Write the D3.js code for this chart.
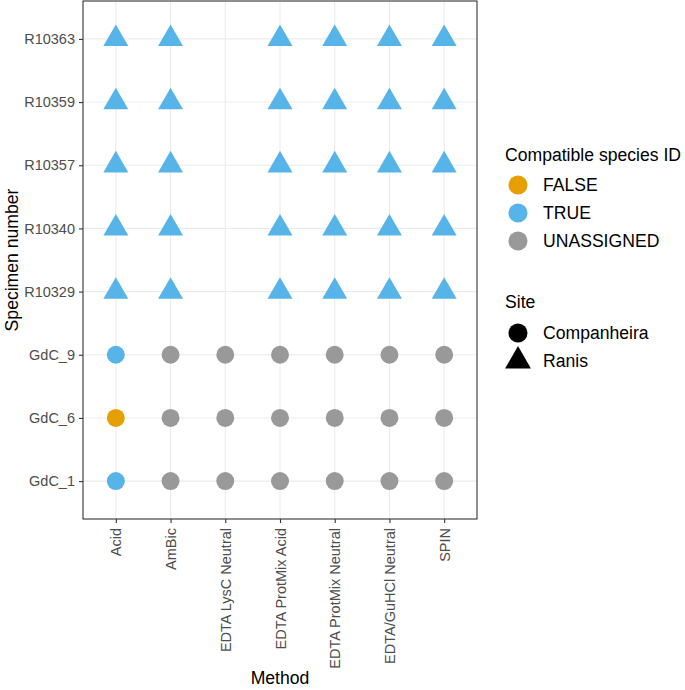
<!DOCTYPE html>
<html>
<head>
<meta charset="utf-8">
<script src="https://cdn.jsdelivr.net/npm/d3@7"></script>
<style>
  body { margin: 0; background: #fff; }
  text { font-family: "Liberation Sans", Arial, sans-serif; }
</style>
</head>
<body>
<div id="chart"></div>
<script>
// data
var methods = ["Acid", "AmBic", "EDTA LysC Neutral", "EDTA ProtMix Acid",
               "EDTA ProtMix Neutral", "EDTA/GuHCl Neutral", "SPIN"];
var specimens = ["GdC_1", "GdC_6", "GdC_9", "R10329", "R10340", "R10357", "R10359", "R10363"];
var specimenSite = ["Companheira", "Companheira", "Companheira", "Ranis", "Ranis", "Ranis", "Ranis", "Ranis"];
// one row per specimen, one entry per method ("" = no point)
var compatible = [
  ["TRUE",  "UNASSIGNED", "UNASSIGNED", "UNASSIGNED", "UNASSIGNED", "UNASSIGNED", "UNASSIGNED"],
  ["FALSE", "UNASSIGNED", "UNASSIGNED", "UNASSIGNED", "UNASSIGNED", "UNASSIGNED", "UNASSIGNED"],
  ["TRUE",  "UNASSIGNED", "UNASSIGNED", "UNASSIGNED", "UNASSIGNED", "UNASSIGNED", "UNASSIGNED"],
  ["TRUE", "TRUE", "", "TRUE", "TRUE", "TRUE", "TRUE"],
  ["TRUE", "TRUE", "", "TRUE", "TRUE", "TRUE", "TRUE"],
  ["TRUE", "TRUE", "", "TRUE", "TRUE", "TRUE", "TRUE"],
  ["TRUE", "TRUE", "", "TRUE", "TRUE", "TRUE", "TRUE"],
  ["TRUE", "TRUE", "", "TRUE", "TRUE", "TRUE", "TRUE"]
];
var idLevels = ["FALSE", "TRUE", "UNASSIGNED"];
var idColors = ["#E69F00", "#56B4E9", "#999999"];
var siteLevels = ["Companheira", "Ranis"];

var width = 685, height = 690;
var margin = {top: 1, right: 208, bottom: 171, left: 83};
var pw = width - margin.left - margin.right,
    ph = height - margin.top - margin.bottom;

var svg = d3.select("#chart").append("svg")
    .attr("width", width)
    .attr("height", height);

var g = svg.append("g")
    .attr("transform", "translate(" + margin.left + "," + margin.top + ")");

var x = d3.scalePoint().domain(methods).range([0, pw]).padding(0.6);
var y = d3.scalePoint().domain(specimens).range([ph, 0]).padding(0.6);
var color = d3.scaleOrdinal().domain(idLevels).range(idColors);
var shape = d3.scaleOrdinal().domain(siteLevels).range([d3.symbolCircle, d3.symbolTriangle]);
var shapeSize = d3.scaleOrdinal().domain(siteLevels).range([254, 270]);

// grid
g.selectAll(".gx").data(methods).enter().append("line")
    .attr("x1", function(d){return x(d)}).attr("x2", function(d){return x(d)})
    .attr("y1", 0).attr("y2", ph)
    .attr("stroke", "#ebebeb").attr("stroke-width", 1.1);
g.selectAll(".gy").data(specimens).enter().append("line")
    .attr("y1", function(d){return y(d)}).attr("y2", function(d){return y(d)})
    .attr("x1", 0).attr("x2", pw)
    .attr("stroke", "#ebebeb").attr("stroke-width", 1.1);

// points
var pts = [];
specimens.forEach(function(s, i){
  methods.forEach(function(m, j){
    if (compatible[i][j] !== "") pts.push({spec: s, method: m, id: compatible[i][j], site: specimenSite[i]});
  });
});

g.selectAll(".pt").data(pts).enter().append("path")
    .attr("transform", function(d){return "translate(" + x(d.method) + "," + y(d.spec) + ")"})
    .attr("d", function(d){return d3.symbol().type(shape(d.site)).size(shapeSize(d.site))()})
    .attr("fill", function(d){return color(d.id)});

// border
g.append("rect").attr("width", pw).attr("height", ph)
    .attr("fill", "none").attr("stroke", "#333333").attr("stroke-width", 1.1);

// axes
var xAxis = g.append("g")
    .attr("transform", "translate(0," + ph + ")")
    .call(d3.axisBottom(x).tickSize(4).tickPadding(5));
var yAxis = g.append("g")
    .call(d3.axisLeft(y).tickSize(4).tickPadding(4));
[xAxis, yAxis].forEach(function(a){
  a.attr("font-size", null).attr("font-family", null);
  a.select(".domain").remove();
  a.selectAll(".tick line").attr("stroke", "#333333").attr("stroke-width", 1.1);
  a.selectAll(".tick text").attr("fill", "#4d4d4d").style("font-size", "14.5px");
});
xAxis.selectAll(".tick text")
    .attr("transform", "rotate(-90)")
    .attr("x", -9).attr("y", 0).attr("dy", "0.35em")
    .attr("text-anchor", "end");

// axis titles
svg.append("text")
    .attr("x", margin.left + pw / 2).attr("y", 684)
    .attr("text-anchor", "middle").style("font-size", "17.6px").text("Method");
svg.append("text")
    .attr("transform", "translate(18," + (margin.top + ph / 2) + ") rotate(-90)")
    .attr("text-anchor", "middle").style("font-size", "17.6px").text("Specimen number");

// legends
var lg = svg.append("g").attr("transform", "translate(505,0)");
lg.append("text").attr("x", 0).attr("y", 161).style("font-size", "17.6px").text("Compatible species ID");
idLevels.forEach(function(l, i){
  var cy = 185 + i * 28;
  lg.append("path")
    .attr("transform", "translate(13," + cy + ")")
    .attr("d", d3.symbol().type(d3.symbolCircle).size(285)())
    .attr("fill", color(l));
  lg.append("text").attr("x", 38).attr("y", cy).attr("dy", "0.35em")
    .style("font-size", "17.6px").text(l);
});
lg.append("text").attr("x", 0).attr("y", 308).style("font-size", "17.6px").text("Site");
siteLevels.forEach(function(l, i){
  var cy = 333 + i * 28;
  lg.append("path")
    .attr("transform", "translate(13," + cy + ")")
    .attr("d", d3.symbol().type(shape(l)).size(i ? 290 : 285)())
    .attr("fill", "#000");
  lg.append("text").attr("x", 38).attr("y", cy).attr("dy", "0.35em")
    .style("font-size", "17.6px").text(l);
});
</script>
</body>
</html>
